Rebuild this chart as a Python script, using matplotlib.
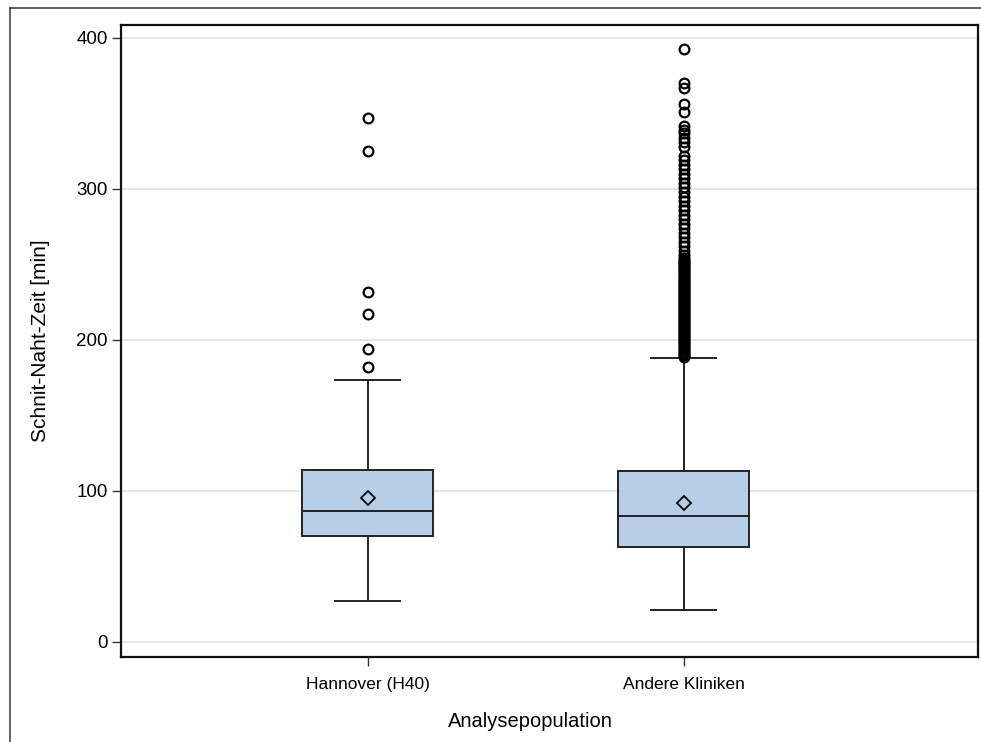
import matplotlib.pyplot as plt
from matplotlib.lines import Line2D

# data
groups = ["Hannover (H40)", "Andere Kliniken"]
q1 = [70.2, 62.7]
median = [86.8, 83.4]
q3 = [113.9, 113.0]
mean = [95.4, 92.3]
whislo = [27.2, 21.0]
whishi = [173.5, 188.0]
outliers_h40 = [347, 325, 232, 217, 194, 182]
outliers_other = [393, 370, 367, 356, 351, 342, 339, 337, 334, 331, 328,
                  322, 319, 316, 313, 310, 307, 304, 301, 298, 295, 292,
                  289, 286, 283, 280, 277, 274, 271, 268, 265, 262, 259,
                  256, 254, 253, 252, 251, 250, 249, 248, 247, 246, 245,
                  244, 243, 242, 241, 240, 239, 238, 237, 236, 235, 234,
                  233, 232, 231, 230, 229, 228, 227, 226, 225, 224, 223,
                  222, 221, 220, 219, 218, 217, 216, 215, 214, 213, 212,
                  211, 210, 209, 208, 207, 206, 205, 204, 203, 202, 201,
                  200, 199, 198, 197, 196, 195, 194, 193, 192, 191, 190, 189]
yticks = [0, 100, 200, 300, 400]

plt.rcParams['font.family'] = ['Liberation Sans', 'DejaVu Sans']

fig = plt.figure(figsize=(9.81, 7.42), dpi=100)
ax = fig.add_axes([121/981, 85/742, 857/981, 632/742])

stats = []
fliers = [outliers_h40, outliers_other]
for i in range(len(groups)):
	stats.append(dict(label=groups[i], q1=q1[i], med=median[i], q3=q3[i],
	                  mean=mean[i], whislo=whislo[i], whishi=whishi[i],
	                  fliers=fliers[i]))

edge = "#222222"
lw = 1.4
ax.bxp(stats, positions=[0, 1], widths=0.414, capwidths=0.206,
       showmeans=True, patch_artist=True,
       boxprops=dict(facecolor="#b8cde8", edgecolor=edge, linewidth=lw),
       medianprops=dict(color=edge, linewidth=lw),
       whiskerprops=dict(color=edge, linewidth=lw),
       capprops=dict(color=edge, linewidth=lw),
       meanprops=dict(marker="D", markerfacecolor="none", markeredgecolor="black",
                      markersize=7.5, markeredgewidth=1.3),
       flierprops=dict(marker="o", markerfacecolor="none", markeredgecolor="black",
                       markersize=7, markeredgewidth=1.6),
       zorder=3)

ax.set_xlim(-0.78, 1.93)
ax.set_ylim(-10, 408.6)
ax.set_yticks(yticks)
ax.set_xticks([0, 1])
ax.set_xticklabels(groups)
ax.yaxis.grid(True, color="#e2e2e2", linewidth=1.2, zorder=0)
ax.set_axisbelow(True)

for s in ax.spines.values():
	s.set_linewidth(1.6)
	s.set_color("#111111")

ax.tick_params(axis="both", direction="out", length=6.5, width=1.0,
               color="#333333")
ax.tick_params(axis="y", labelsize=13.5, pad=3)
ax.tick_params(axis="x", labelsize=12.5, pad=8)

ax.set_ylabel("Schnit-Naht-Zeit [min]", fontsize=15)
ax.yaxis.set_label_coords(-0.083, 0.5)
ax.set_xlabel("Analysepopulation", fontsize=14.5)
ax.xaxis.set_label_coords(0.478, -0.087)

# outer border (top and left edge of the original graph frame)
fig.add_artist(Line2D([10/981, 1.0], [1 - 8/742, 1 - 8/742], color="#444444", linewidth=1.2))
fig.add_artist(Line2D([10/981, 10/981], [0.0, 1 - 8/742], color="#444444", linewidth=1.2))

plt.savefig("out.png", dpi=100)
